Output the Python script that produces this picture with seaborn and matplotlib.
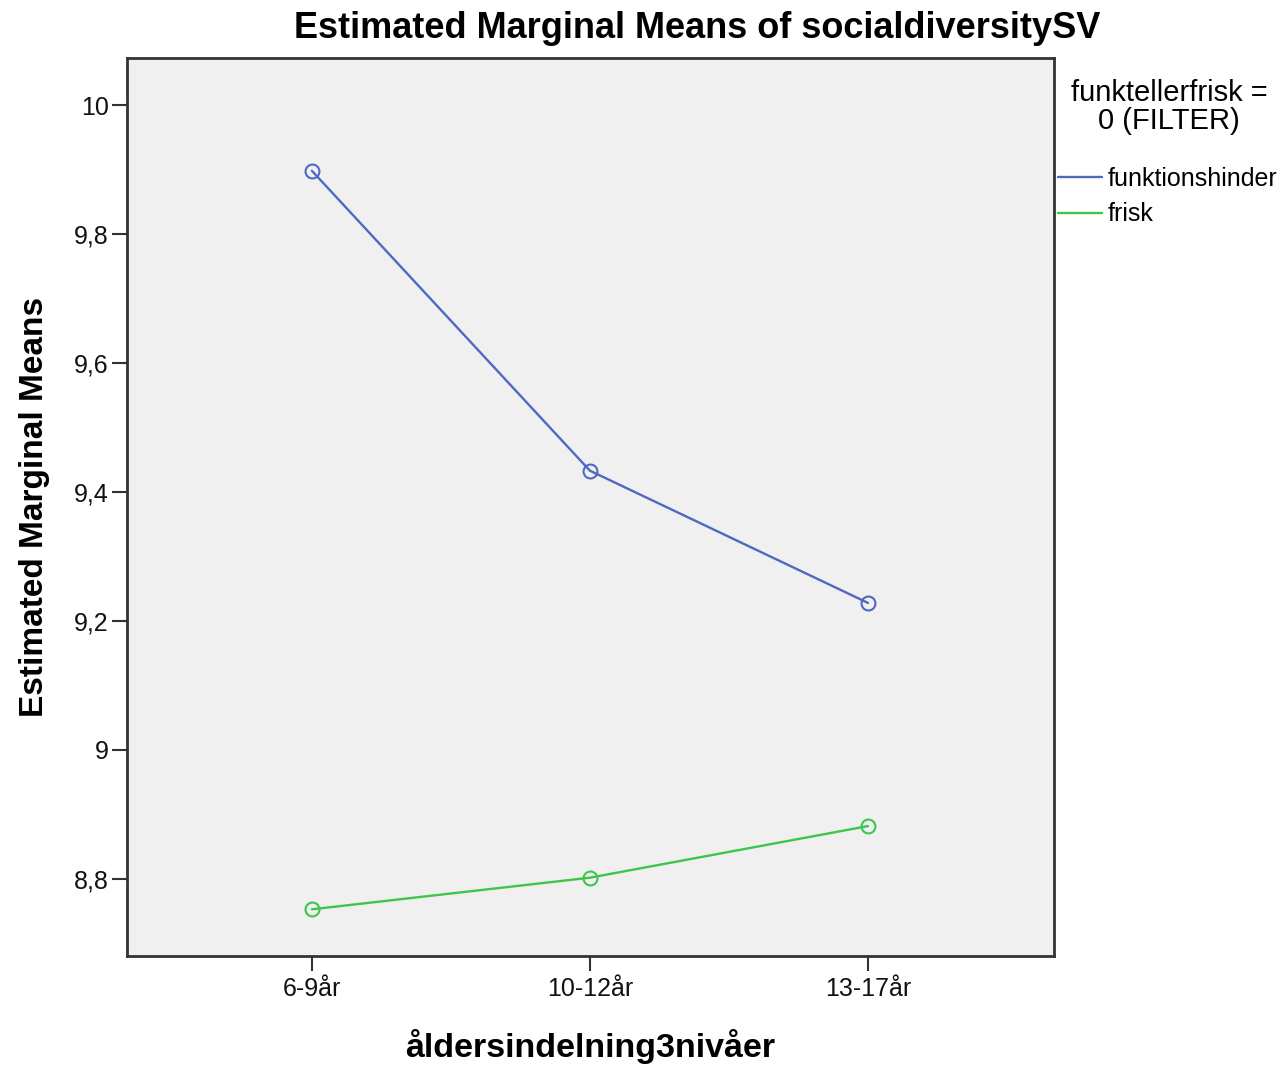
import matplotlib
matplotlib.use("Agg")
import matplotlib.pyplot as plt
from matplotlib.lines import Line2D
import seaborn as sns
import pandas as pd

age_groups = ["6-9år", "10-12år", "13-17år"]
funktionshinder = [9.898, 9.433, 9.228]
frisk = [8.753, 8.802, 8.882]
yticks = [8.8, 9.0, 9.2, 9.4, 9.6, 9.8, 10.0]
ytick_labels = ["8,8", "9", "9,2", "9,4", "9,6", "9,8", "10"]

df = pd.DataFrame({
    "age": age_groups * 2,
    "mean": funktionshinder + frisk,
    "group": ["funktionshinder"] * 3 + ["frisk"] * 3,
})
colors = {"funktionshinder": "#4F68C2", "frisk": "#3DC54C"}

sns.set_style("white")
plt.rcParams["font.family"] = ["Liberation Sans", "DejaVu Sans"]
plt.rcParams["text.color"] = "black"
plt.rcParams["axes.labelcolor"] = "black"
plt.rcParams["xtick.color"] = "black"
plt.rcParams["ytick.color"] = "black"

fig = plt.figure(figsize=(12.83, 10.66), dpi=100)
ax = fig.add_axes([0.099, 0.1032, 0.7225, 0.8424])
ax.set_facecolor("#F0F0F0")

sns.pointplot(data=df, x="age", y="mean", hue="group", palette=colors,
              order=age_groups, errorbar=None, markers="o", linestyles="-",
              markerfacecolor="none", markersize=10, markeredgewidth=1.5,
              linewidth=1.7, legend=False, ax=ax)

ax.set_xlim(-0.665, 2.669)
ax.set_ylim(8.6806, 10.0729)
ax.set_yticks(yticks)
ax.set_yticklabels(ytick_labels)

for s in ax.spines.values():
    s.set_color("#333333")
    s.set_linewidth(2)
ax.tick_params(axis="both", direction="out", length=11, width=1.5,
               color="#333333", labelsize=18, pad=4, left=True, bottom=True,
               labelcolor="#111111")
ax.tick_params(axis="y", pad=2)

ax.set_xlabel("åldersindelning3nivåer", fontsize=24.5, fontweight="bold", labelpad=20)
ax.set_ylabel("Estimated Marginal Means", fontsize=24, fontweight="bold", labelpad=17)

# title sits centred over plot + legend area
fig.text(697 / 1283, 1 - 28 / 1066, "Estimated Marginal Means of socialdiversitySV",
         ha="center", va="center", fontsize=26, fontweight="bold")

fig.text(1169 / 1283, 1 - 107 / 1066, "funktellerfrisk =\n0 (FILTER)", ha="center",
         va="center", fontsize=21, linespacing=1.0, multialignment="center")

handles = [Line2D([0], [0], color=colors[g], lw=1.7) for g in ["funktionshinder", "frisk"]]
leg = fig.legend(handles, ["funktionshinder", "frisk"],
                 loc="upper left", bbox_to_anchor=(1058 / 1283, 1 - 167 / 1066),
                 frameon=False, fontsize=18, handlelength=1.75, handletextpad=0.25,
                 borderaxespad=0, borderpad=0, labelspacing=0.45)

fig.savefig("out.png", dpi=100)
